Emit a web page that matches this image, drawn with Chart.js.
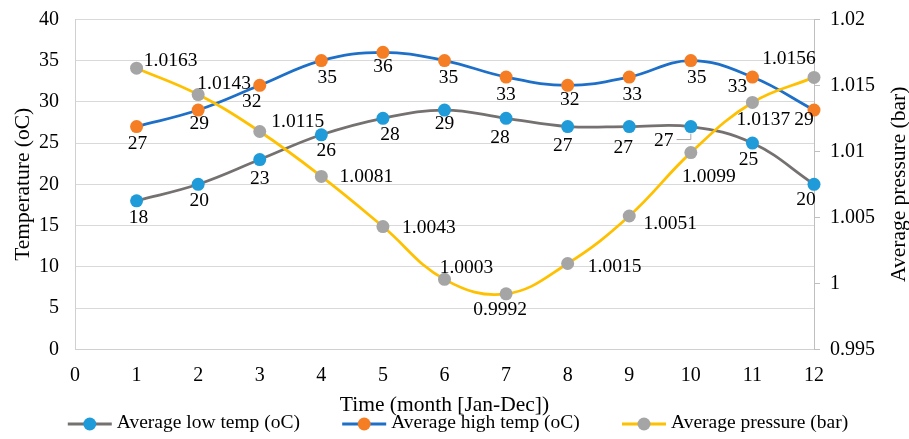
<!DOCTYPE html>
<html><head><meta charset="utf-8">
<script src="https://cdn.jsdelivr.net/npm/chart.js@4.4.0/dist/chart.umd.min.js"></script>
<style>html,body{margin:0;padding:0;background:#fff;}canvas{display:block;}</style>
</head><body>
<canvas id="c" width="909" height="439"></canvas>
<script>
const months = [1,2,3,4,5,6,7,8,9,10,11,12];
const lowTemp = [18,20,23,26,28,29,28,27,27,27,25,20];
const highTemp = [27,29,32,35,36,35,33,32,33,35,33,29];
const pressure = [1.0163,1.0143,1.0115,1.0081,1.0043,1.0003,0.9992,1.0015,1.0051,1.0099,1.0137,1.0156];
const seriesNames = ['Average low temp (oC)','Average high temp (oC)','Average pressure (bar)'];
const xTickValues = [0,1,2,3,4,5,6,7,8,9,10,11,12];
const tempTickValues = [0,5,10,15,20,25,30,35,40];
const pressureTickValues = [0.995,1,1.005,1.01,1.015,1.02];
const pressureTickLabels = ['0.995','1','1.005','1.01','1.015','1.02'];
const xTitle = 'Time (month [Jan-Dec])';
const leftTitle = 'Temperature (oC)';
const rightTitle = 'Average pressure (bar)';

// label placement offsets (text centre relative to point), px
const lowOffsets = [[2,17],[1,17],[0,19],[5,16],[7,17],[0,14],[-6,20],[-5,19],[-6,21],[-27,14],[-4,17],[-8,16]];
const highOffsets = [[1,17],[1,14],[-8,17],[6,17],[0,15],[4,17],[0,18],[2,15],[3,18],[6,17],[-15,10],[-10,10]];
const pressOffsets = [[34,-7],[26,-11],[38,-10],[45,0],[46,1],[22,-11],[-6,16],[47,3],[41,8],[18,24],[11,17],[-25,-19]];

const FONT = '"Liberation Serif", "Times New Roman", serif';
Chart.defaults.font.family = FONT;
Chart.defaults.color = '#000';

const toXY = arr => months.map((m,i)=>({x:m, y:arr[i]}));

const labelPlugin = {
  id:'pointLabels',
  afterDatasetsDraw(chart){
    const ctx = chart.ctx;
    ctx.save();
    ctx.font = '19.5px ' + FONT;
    ctx.textAlign = 'center';
    ctx.textBaseline = 'middle';
    chart.data.datasets.forEach((ds,i)=>{
      const meta = chart.getDatasetMeta(i);
      meta.data.forEach((pt,j)=>{
        const off = ds.labelOffsets[j];
        const txt = ds.fmt(ds.data[j].y);
        const tx = pt.x + off[0], ty = pt.y + off[1];
        ctx.fillStyle = '#000';
        ctx.fillText(txt, tx, ty);
        if (ds.leaders && ds.leaders.includes(j)) {
          const w = ctx.measureText(txt).width;
          ctx.strokeStyle = '#a6a6a6';
          ctx.lineWidth = 1;
          ctx.beginPath();
          ctx.moveTo(tx + w/2 + 3, ty - 1);
          ctx.lineTo(pt.x, ty - 1);
          ctx.lineTo(pt.x, pt.y + 7);
          ctx.stroke();
        }
      });
    });
    ctx.restore();
  }
};

const legendPlugin = {
  id:'customLegend',
  afterDraw(chart){
    const ctx = chart.ctx;
    ctx.save();
    ctx.font = '19.5px ' + FONT;
    const sym = 44, gapT = 5, gapI = 42.2;
    const items = chart.data.datasets.map(ds=>({ds, w: ctx.measureText(ds.label).width}));
    const total = items.reduce((s,it)=>s+sym+gapT+it.w,0) + gapI*(items.length-1);
    let x = (chart.width - total)/2 + 3.5;
    const y = 424;
    items.forEach(it=>{
      ctx.strokeStyle = it.ds.borderColor; ctx.lineWidth = 3; ctx.lineCap = 'butt';
      ctx.beginPath(); ctx.moveTo(x,y); ctx.lineTo(x+sym,y); ctx.stroke();
      ctx.fillStyle = it.ds.pointBackgroundColor;
      ctx.beginPath(); ctx.arc(x+sym/2, y, 6.5, 0, Math.PI*2); ctx.fill();
      ctx.fillStyle = '#000'; ctx.textAlign = 'left'; ctx.textBaseline = 'middle';
      ctx.fillText(it.ds.label, x+sym+gapT, y-1);
      x += sym+gapT+it.w+gapI;
    });
    // right axis title (reads bottom to top)
    const ca = chart.chartArea;
    ctx.font = '21.5px ' + FONT;
    ctx.textAlign = 'center'; ctx.textBaseline = 'middle';
    ctx.translate(899, (ca.top+ca.bottom)/2);
    ctx.rotate(-Math.PI/2);
    ctx.fillText(rightTitle, 0, 0);
    ctx.restore();
  }
};

new Chart(document.getElementById('c'), {
  type:'line',
  data:{
    datasets:[
      {label:seriesNames[0], data:toXY(lowTemp), yAxisID:'y', borderColor:'#767171', backgroundColor:'#1F9BD9',
       pointBackgroundColor:'#1F9BD9', pointBorderColor:'#1F9BD9', pointRadius:6.5, pointHoverRadius:6.5, pointBorderWidth:0,
       borderWidth:2.75, tension:0.4, clip:false, order:3, labelOffsets:lowOffsets, leaders:[9], fmt:v=>String(v)},
      {label:seriesNames[1], data:toXY(highTemp), yAxisID:'y', borderColor:'#1E6FC8', backgroundColor:'#F57D23',
       pointBackgroundColor:'#F57D23', pointBorderColor:'#F57D23', pointRadius:6.5, pointHoverRadius:6.5, pointBorderWidth:0,
       borderWidth:2.75, tension:0.4, clip:false, order:2, labelOffsets:highOffsets, fmt:v=>String(v)},
      {label:seriesNames[2], data:toXY(pressure), yAxisID:'y1', borderColor:'#FFC000', backgroundColor:'#A5A5A5',
       pointBackgroundColor:'#A5A5A5', pointBorderColor:'#A5A5A5', pointRadius:6.5, pointHoverRadius:6.5, pointBorderWidth:0,
       borderWidth:2.75, tension:0.4, clip:false, order:1, labelOffsets:pressOffsets, fmt:v=>v.toFixed(4)}
    ]
  },
  options:{
    responsive:false,
    animation:false,
    events:[],
    layout:{padding:{top:19.3, bottom:21, left:0, right:0}},
    plugins:{legend:{display:false}, tooltip:{enabled:false}},
    scales:{
      x:{type:'linear', min:0, max:12,
        afterBuildTicks:s=>{s.ticks = xTickValues.map(v=>({value:v}));},
        grid:{display:false}, border:{display:true, color:'#d0d0d0', width:1},
        ticks:{padding:6, font:{size:20}, color:'#000', maxRotation:0, autoSkip:false, callback:v=>String(v)},
        title:{display:true, text:xTitle, font:{size:21.5}, color:'#000', padding:0},
        afterFit:s=>{s.height = 68.7;}
      },
      y:{position:'left', min:0, max:40,
        afterBuildTicks:s=>{s.ticks = tempTickValues.map(v=>({value:v}));},
        grid:{color:'#d9d9d9', drawTicks:false, lineWidth:1},
        border:{display:true, color:'#d0d0d0', width:1},
        ticks:{padding:16, font:{size:20}, color:'#000', callback:v=>String(v)},
        title:{display:true, text:leftTitle, font:{size:21.5}, color:'#000', padding:{top:10, bottom:0}},
        afterFit:s=>{s.width = 75; s.paddingTop = 0; s.paddingBottom = 0;}
      },
      y1:{position:'right', min:0.995, max:1.02,
        afterBuildTicks:s=>{s.ticks = pressureTickValues.map(v=>({value:v}));},
        grid:{drawOnChartArea:false, drawTicks:true, tickLength:6, color:'#bfbfbf', lineWidth:1},
        border:{display:true, color:'#bfbfbf', width:1},
        ticks:{padding:10, font:{size:20}, color:'#000', callback:(v,i)=>pressureTickLabels[i]},
        afterFit:s=>{s.width = 95; s.paddingTop = 0; s.paddingBottom = 0;}
      }
    }
  },
  plugins:[labelPlugin, legendPlugin]
});
</script>
</body></html>
